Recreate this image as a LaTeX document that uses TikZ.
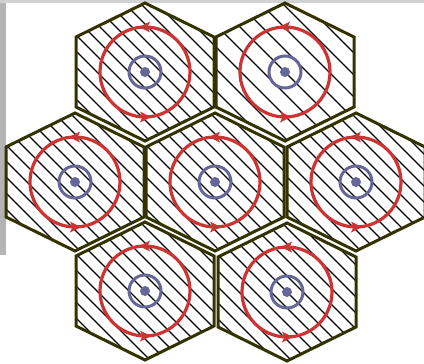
\documentclass[tikz,border=0pt]{standalone}
\definecolor{hexc}{RGB}{51,51,0}
\definecolor{redc}{RGB}{204,51,51}
\definecolor{bluec}{RGB}{102,102,153}
\definecolor{framea}{RGB}{180,180,180}
\definecolor{frameb}{RGB}{210,210,210}
\begin{document}
\begin{tikzpicture}[x=1pt,y=-1pt,
  hexedge/.style={draw=hexc,line width=3pt,line join=miter},
  hatchline/.style={draw=black,line width=1.1pt},
  ring/.style={draw=redc,line width=3.2pt},
  innerring/.style={draw=bluec,line width=3pt},
  hub/.style={fill=bluec},
  tipmark/.style={fill=redc}]
\useasboundingbox (0,0) rectangle (424,364);
\clip (0,0) rectangle (424,364);
\fill[white] (0,0) rectangle (424,364);
\fill[framea] (0,0) rectangle (6,255);
\fill[frameb] (0,0) rectangle (424,3);
\foreach \cx/\cy/\sp in {145/72/16, 285/72/22, 75/182/16, 215/182/16, 356/182/16, 145/291/16, 287/292/16}{
  \begin{scope}
    \clip (\cx,\cy-69) -- (\cx+69,\cy-35) -- (\cx+69,\cy+35) -- (\cx,\cy+69) -- (\cx-69,\cy+35) -- (\cx-69,\cy-35) -- cycle;
    \foreach \k in {-10,...,10}
      \draw[hatchline] (\cx-90,\cy-90+\k*\sp) -- (\cx+90,\cy+90+\k*\sp);
  \end{scope}
  \draw[hexedge] (\cx,\cy-69) -- (\cx+69,\cy-35) -- (\cx+69,\cy+35) -- (\cx,\cy+69) -- (\cx-69,\cy+35) -- (\cx-69,\cy-35) -- cycle;
  \draw[ring] (\cx,\cy) circle[radius=45];
  \fill[tipmark] (\cx-6,\cy-45) -- (\cx+5,\cy-50.5) -- (\cx+2.5,\cy-45) -- (\cx+5,\cy-39.5) -- cycle;
  \fill[tipmark] (\cx+6,\cy+45) -- (\cx-5,\cy+50.5) -- (\cx-2.5,\cy+45) -- (\cx-5,\cy+39.5) -- cycle;
  \draw[innerring] (\cx,\cy) circle[radius=16];
  \fill[hub] (\cx,\cy) circle[radius=5];
}
\end{tikzpicture}
\end{document}
